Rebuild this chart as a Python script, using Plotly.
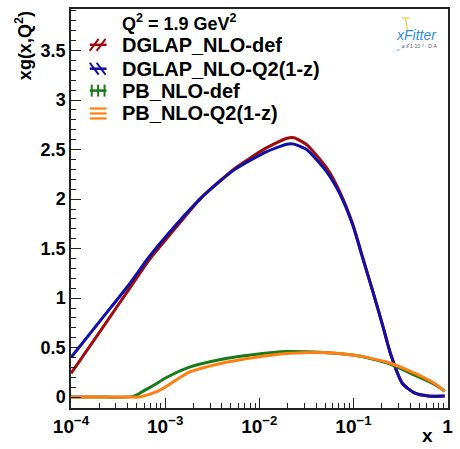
import plotly.graph_objects as go

# ---------------- data ----------------
x_dglap = [1e-4, 2.16e-4, 4.0e-4, 6.8e-4, 1.1e-3, 2.4e-3, 5.5e-3, 0.012, 0.0197, 0.0233,
           0.0318, 0.0515, 0.071, 0.098, 0.125, 0.159, 0.202, 0.247, 0.33, 0.45, 0.62, 0.93]
y_dglap_def = [0.24, 0.70, 1.07, 1.39, 1.63, 2.01, 2.31, 2.52, 2.615, 2.62,
               2.55, 2.32, 2.08, 1.75, 1.41, 1.08, 0.74, 0.44, 0.14, 0.04, 0.012, 0.01]
y_dglap_q2 = [0.40, 0.80, 1.12, 1.42, 1.66, 2.01, 2.30, 2.48, 2.555, 2.555,
              2.50, 2.28, 2.06, 1.74, 1.41, 1.08, 0.74, 0.44, 0.14, 0.04, 0.012, 0.01]

x_pb = [1e-4, 2e-4, 4.5e-4, 5.2e-4, 5.6e-4, 7.9e-4, 1.0e-3, 1.78e-3, 3.9e-3, 8.9e-3,
        0.0195, 0.048, 0.107, 0.234, 0.45, 0.72, 0.93]
y_pb_def = [0.0, 0.0, 0.005, 0.03, 0.05, 0.13, 0.19, 0.30, 0.38, 0.43,
            0.46, 0.45, 0.42, 0.34, 0.22, 0.13, 0.06]
y_pb_q2 = [0.0, 0.0, 0.0, 0.0, 0.005, 0.05, 0.10, 0.25, 0.34, 0.40,
           0.44, 0.45, 0.42, 0.35, 0.24, 0.14, 0.06]

series_names = ["DGLAP_NLO-def", "DGLAP_NLO-Q2(1-z)", "PB_NLO-def", "PB_NLO-Q2(1-z)"]
series_colors = ["#a00a0a", "#1010a6", "#187a18", "#ff7f12"]

x_tickvals = [1e-4, 1e-3, 1e-2, 1e-1, 1]
x_ticktext = ["<b>10<sup>−4</sup></b>", "<b>10<sup>−3</sup></b>", "<b>10<sup>−2</sup></b>",
              "<b>10<sup>−1</sup></b>", "<b>1</b>"]
y_tickvals = [0, 0.5, 1, 1.5, 2, 2.5, 3, 3.5]
y_ticktext = ["<b>0</b>", "<b>0.5</b>", "<b>1</b>", "<b>1.5</b>", "<b>2</b>", "<b>2.5</b>",
              "<b>3</b>", "<b>3.5</b>"]
x_minor = [m * 10.0 ** e for e in range(-4, 0) for m in range(2, 10)]

# ---------------- figure ----------------
W, H = 460, 449
L, R, T, B = 71, 7, 7, 41
PW, PH = W - L - R, H - T - B


def px(xp):
    return (xp - L) / PW


def py(yp):
    return (H - B - yp) / PH


fig = go.Figure()
xs = [x_dglap, x_dglap, x_pb, x_pb]
ys = [y_dglap_def, y_dglap_q2, y_pb_def, y_pb_q2]
for xv, yv, name, col in zip(xs, ys, series_names, series_colors):
    fig.add_trace(go.Scatter(x=xv, y=yv, mode="lines", name=name,
                             line=dict(color=col, width=3, shape="spline", smoothing=0.6),
                             showlegend=False))

FONT = "Liberation Sans, Arial, sans-serif"
fig.update_layout(
    width=W, height=H,
    margin=dict(l=L, r=R, t=T, b=B),
    paper_bgcolor="white", plot_bgcolor="white",
    font=dict(family=FONT, size=17, color="black"),
    xaxis=dict(type="log", range=[-4, 0.004], showgrid=False, zeroline=False,
               showline=True, mirror=True, linecolor="#222", linewidth=1.5,
               ticks="inside", ticklen=10, tickwidth=1.2, tickcolor="#222",
               tickvals=x_tickvals, ticktext=x_ticktext,
               tickfont=dict(size=19, family=FONT),
               minor=dict(ticks="inside", ticklen=5, tickwidth=1.2, tickcolor="#222",
                          tickvals=x_minor)),
    yaxis=dict(range=[-0.11, 3.92], showgrid=False, zeroline=False,
               showline=True, mirror=True, linecolor="#222", linewidth=1.5,
               ticks="inside", ticklen=10, tickwidth=1.2, tickcolor="#222",
               tickvals=y_tickvals, ticktext=y_ticktext,
               tickfont=dict(size=18, family=FONT),
               minor=dict(ticks="inside", ticklen=5, tickwidth=1.2, tickcolor="#222",
                          dtick=0.1)),
)

ann = []
# axis titles
ann.append(dict(xref="paper", yref="paper", x=px(23), y=py(7), xanchor="center", yanchor="top",
                text="<b>xg(x,Q<sup>2</sup>)</b>", textangle=-90, showarrow=False,
                font=dict(size=18, family=FONT)))
ann.append(dict(xref="paper", yref="paper", x=px(432), y=py(436), xanchor="center", yanchor="middle",
                text="<b>x</b>", showarrow=False, font=dict(size=19, family=FONT)))
# legend header
ann.append(dict(xref="paper", yref="paper", x=px(121), y=py(21), xanchor="left", yanchor="middle",
                text="<b>Q<sup>2</sup> = 1.9 GeV<sup>2</sup></b>", showarrow=False,
                font=dict(size=18, family=FONT)))
leg_y = [43, 67, 89, 112]
for yy, name in zip(leg_y, series_names):
    ann.append(dict(xref="paper", yref="paper", x=px(121), y=py(yy), xanchor="left", yanchor="middle",
                    text="<b>" + name + "</b>", showarrow=False,
                    font=dict(size=20, family=FONT)))
# logo text
ann.append(dict(xref="paper", yref="paper", x=px(421), y=py(33), xanchor="center", yanchor="middle",
                text="<i>xFitter</i>", showarrow=False,
                font=dict(size=14, family=FONT, color="#2d8fe3")))
ann.append(dict(xref="paper", yref="paper", x=px(424), y=py(44), xanchor="center", yanchor="middle",
                text="x ≥ 1·10⁻³ · D·A", showarrow=False,
                font=dict(size=5, family=FONT, color="#555")))
fig.update_layout(annotations=ann)

# legend symbols (drawn in paper space)
shapes = []
x0s, x1s = 90, 107


def seg(xa, ya, xb, yb, col, w=2.5):
    shapes.append(dict(type="line", xref="paper", yref="paper",
                       x0=px(xa), y0=py(ya), x1=px(xb), y1=py(yb),
                       line=dict(color=col, width=w)))


# red: diagonal "//" hatches + line
c = series_colors[0]; yc = leg_y[0]
seg(x0s, yc, x1s, yc, c)
for dx in (0, 7):
    seg(x0s + dx, yc + 6, x0s + dx + 9, yc - 6, c, 2)
# blue: "\\" hatches + line
c = series_colors[1]; yc = leg_y[1]
seg(x0s, yc, x1s, yc, c)
for dx in (0, 7):
    seg(x0s + dx, yc - 6, x0s + dx + 9, yc + 6, c, 2)
# green: vertical hatches + line
c = series_colors[2]; yc = leg_y[2]
seg(x0s, yc, x1s, yc, c)
for xx in (92, 98.5, 105):
    seg(xx, yc - 6, xx, yc + 6, c, 2)
# orange: horizontal hatches
c = series_colors[3]; yc = leg_y[3]
for dy in (-5, 0, 5):
    seg(x0s, yc + dy, x1s, yc + dy, c, 2.2)

# logo decoration
shapes.append(dict(type="line", xref="paper", yref="paper", x0=px(410), y0=py(16), x1=px(412), y1=py(30),
                   line=dict(color="#f4c542", width=1.2)))
shapes.append(dict(type="line", xref="paper", yref="paper", x0=px(406), y0=py(16), x1=px(414), y1=py(16),
                   line=dict(color="#f4c542", width=1.2)))
shapes.append(dict(type="line", xref="paper", yref="paper", x0=px(401), y0=py(49), x1=px(416), y1=py(41),
                   line=dict(color="#5aa8ee", width=1, dash="dot")))
fig.update_layout(shapes=shapes)

fig.write_html("out.html")
